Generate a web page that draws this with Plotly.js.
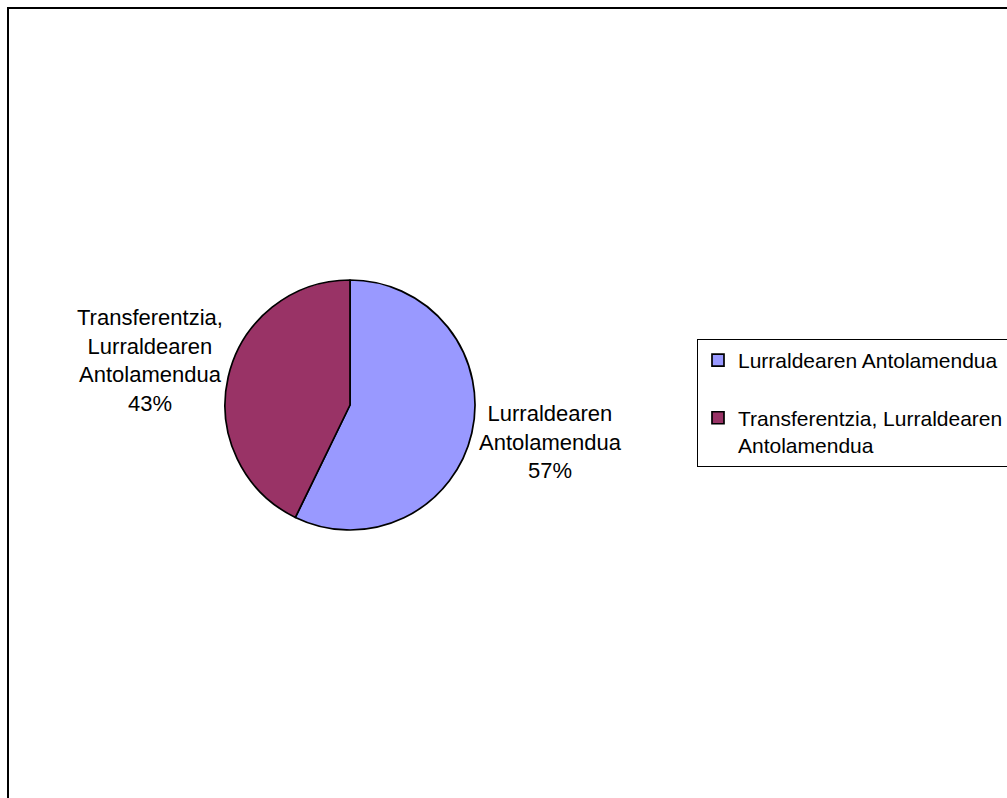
<!DOCTYPE html>
<html>
<head>
<meta charset="utf-8">
<script src="https://cdn.plot.ly/plotly-3.0.1.min.js"></script>
<style>
html, body { margin: 0; padding: 0; overflow: hidden; background: #fff; }
#chart { position: absolute; left: 0; top: 0; width: 1030px; height: 820px; }
</style>
</head>
<body>
<div id="chart"></div>
<script>
// Data
const categories = ["Lurraldearen Antolamendua", "Transferentzia, Lurraldearen Antolamendua"];
const values = [57.2, 42.8];
const legendNames = ["Lurraldearen Antolamendua<br> ", "Transferentzia, Lurraldearen<br>Antolamendua"];
const sliceLabelLines = [["Lurraldearen", "Antolamendua"], ["Transferentzia,", "Lurraldearen", "Antolamendua"]];
const colors = ["#9999FF", "#993366"];

const W = 1030, H = 820;
const total = values.reduce((a, b) => a + b, 0);
const pct = values.map(v => Math.round(v / total * 100) + "%");
const FONT = { family: "'Liberation Sans', Arial, sans-serif", size: 21, color: "#000" };
const LABEL_FONT = { family: "'Liberation Sans', Arial, sans-serif", size: 22, color: "#000" };

const trace = {
  type: "pie",
  labels: legendNames,
  values: values,
  sort: false,
  direction: "clockwise",
  rotation: 0,
  textinfo: "none",
  hoverinfo: "label+percent",
  marker: { colors: colors, line: { color: "#000", width: 1.7 } },
  domain: { x: [225 / W, 475 / W], y: [1 - 530 / H, 1 - 280 / H] }
};

const annPos = [
  { x: 550 / W, y: 1 - 442 / H },
  { x: 150 / W, y: 1 - 361 / H }
];

const annotations = sliceLabelLines.map((lines, i) => ({
  xref: "paper", yref: "paper",
  x: annPos[i].x, y: annPos[i].y,
  xanchor: "center", yanchor: "middle",
  text: lines.concat([pct[i]]).join("<br>"),
  showarrow: false,
  align: "center",
  font: LABEL_FONT
}));

const layout = {
  width: W, height: H,
  margin: { l: 0, r: 0, t: 0, b: 0 },
  paper_bgcolor: "#fff",
  plot_bgcolor: "#fff",
  font: FONT,
  showlegend: true,
  legend: {
    x: 697 / W, y: 1 - 339 / H,
    xanchor: "left", yanchor: "top",
    bgcolor: "#fff",
    bordercolor: "#000",
    borderwidth: 1,
    valign: "top",
    font: FONT,
    traceorder: "normal"
  },
  annotations: annotations,
  shapes: [{
    type: "rect", xref: "paper", yref: "paper",
    x0: 8 / W, x1: 1.2, y0: -0.2, y1: 1 - 8 / H,
    line: { color: "#000", width: 2 },
    fillcolor: "rgba(0,0,0,0)",
    layer: "below"
  }]
};

Plotly.newPlot("chart", [trace], layout, { displayModeBar: false, staticPlot: true });
</script>
</body>
</html>
